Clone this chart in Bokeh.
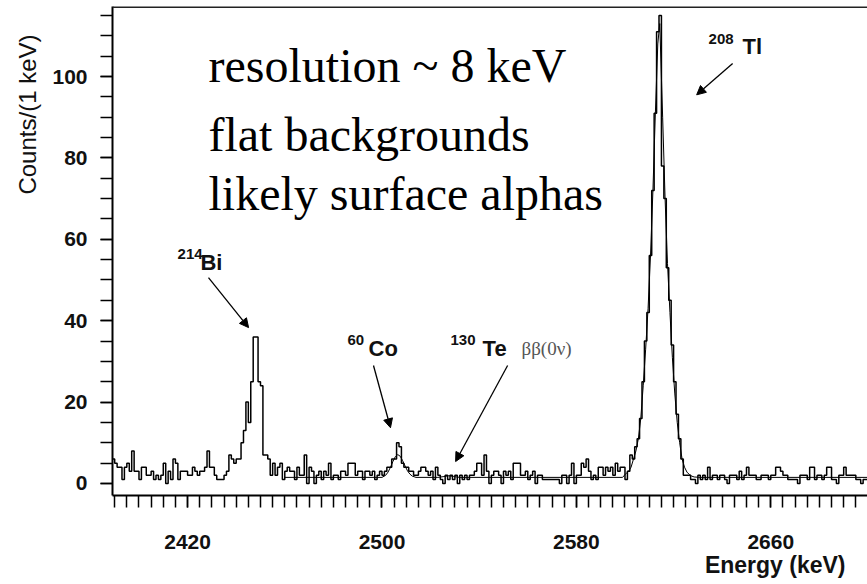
import math
from bokeh.plotting import figure
from bokeh.models import Range1d, FixedTicker, Label, Arrow, NormalHead, Span, Title
from bokeh.embed import file_html
from bokeh.resources import INLINE

# ---------------- data ----------------
bin_start = 2389  # first 1-keV bin (keV)

counts_bi = [  # 2389 .. 2453
    6, 5, 4, 4, 1, 4, 5, 3, 8, 3,
    3, 1, 4, 4, 2, 2, 3, 1, 2, 1,
    2, 5, 0, 3, 1, 6, 5, 1, 3, 3,
    3, 2, 2, 4, 3, 2, 3, 3, 4, 8,
    4, 4, 2, 1, 1, 1, 2, 3, 7, 6,
    5, 6, 6, 10, 13, 20, 15, 25, 36, 36,
    25, 24, 7, 7, 6,
]
counts_mid = [  # 2454 .. 2624
    2, 5, 2, 4, 5, 1, 3, 4, 3, 3,
    1, 4, 2, 2, 7, 0, 4, 3, 0, 2,
    3, 1, 3, 2, 5, 1, 2, 2, 1, 3,
    3, 2, 5, 5, 5, 2, 3, 3, 1, 3,
    3, 2, 3, 1, 2, 3, 2, 3, 4, 4,
    6, 6, 10, 9, 5, 4, 4, 3, 3, 2,
    2, 3, 4, 4, 3, 2, 3, 1, 4, 2,
    1, 0, 2, 1, 2, 1, 2, 0, 2, 1,
    2, 1, 2, 2, 3, 5, 5, 2, 7, 3,
    0, 2, 3, 3, 2, 0, 3, 2, 3, 1,
    5, 5, 5, 2, 2, 3, 1, 2, 3, 0,
    2, 2, 1, 1, 1, 1, 1, 1, 1, 0,
    2, 2, 0, 2, 5, 0, 2, 2, 5, 4,
    6, 3, 1, 2, 1, 4, 4, 2, 4, 3,
    4, 2, 5, 3, 4, 4, 1, 3, 7, 6,
    9, 11, 16, 25, 35, 42, 56, 72, 91, 111,
    115, 78, 70, 53, 45, 34, 25, 17, 11, 6, 2,
]
counts_tail = [  # 2625 .. 2699
    2, 2, 1, 1, 0, 2, 1, 2, 1, 4,
    1, 2, 2, 1, 2, 2, 1, 0, 2, 2,
    2, 1, 3, 1, 2, 4, 2, 2, 2, 1,
    1, 2, 2, 2, 1, 2, 2, 4, 4, 3,
    2, 2, 1, 1, 1, 1, 0, 2, 2, 2,
    1, 4, 4, 1, 2, 2, 1, 2, 4, 4,
    1, 1, 0, 2, 2, 4, 2, 2, 2, 2,
    1, 1, 0, 1, 1,
]

fit_energy = [2460, 2500, 2501.5, 2502.5, 2503.5, 2504.5, 2505.5, 2506.5, 2507.5,
              2508.5, 2509.5, 2510.5, 2511.5, 2512.5, 2514,
              2523, 2525.5, 2527.5, 2529.5, 2532,
              2599, 2600.5, 2601.5, 2602.5, 2603.5, 2604.5, 2605.5, 2606.5, 2607.5,
              2608.5, 2609.5, 2610.5, 2611.5, 2612.5, 2613.5, 2614.3,
              2615.5, 2616.5, 2617.5, 2618.5, 2619.5, 2620.5, 2621.5, 2622.5,
              2623.5, 2624.5, 2625.5, 2626.5, 2627.5, 2628.5, 2631, 2700]
fit_counts = [1.5, 1.5, 2.0, 2.8, 4.0, 5.4, 6.6, 7.1, 6.7,
              5.6, 4.3, 3.1, 2.3, 1.8, 1.5,
              1.5, 1.7, 1.9, 1.7, 1.5,
              1.5, 2.5, 3, 4, 6, 8, 11, 16, 24,
              33, 43, 56, 72, 91, 108, 113,
              90, 70, 54, 42, 31, 22, 15, 10,
              6, 4, 2.8, 2.2, 1.8, 1.6, 1.5, 1.5]

x_ticks = [2420, 2500, 2580, 2660]
y_ticks = [0, 20, 40, 60, 80, 100]

# ---------------- figure ----------------
counts = counts_bi + counts_mid + counts_tail
edges = [bin_start + i for i in range(len(counts) + 1)]
step_y = counts + [counts[-1]]

x_start, x_end = 2389.1, 2699.8
y_start, y_end = -2.95, 117.2

p = figure(width=867, height=584, output_backend="svg", toolbar_location=None,
           x_range=Range1d(x_start, x_end), y_range=Range1d(y_start, y_end),
           min_border_left=112, min_border_right=0, min_border_top=6,
           min_border_bottom=89)
p.outline_line_color = None
p.xgrid.visible = False
p.ygrid.visible = False
p.background_fill_color = "white"
p.border_fill_color = "white"

p.step(edges, step_y, mode="after", line_color="black", line_width=1.5)
p.line(fit_energy, fit_counts, line_color="black", line_width=1)

p.add_layout(Span(location=y_end, dimension="width", line_color="#222222", line_width=3))

p.xaxis.ticker = FixedTicker(ticks=x_ticks, minor_ticks=list(range(2390, 2701, 5)))
p.yaxis.ticker = FixedTicker(ticks=y_ticks, minor_ticks=list(range(0, 120, 5)))
for ax in (p.xaxis[0], p.yaxis[0]):
    ax.major_tick_in = 0
    ax.major_tick_out = 12
    ax.minor_tick_in = 0
    ax.minor_tick_out = 12
    ax.axis_line_width = 2
    ax.axis_line_color = "black"
    ax.major_tick_line_width = 1.5
    ax.minor_tick_line_width = 1.5
    ax.major_tick_line_color = "black"
    ax.minor_tick_line_color = "black"
    ax.major_label_text_font = "Liberation Sans"
    ax.major_label_text_font_style = "bold"
    ax.major_label_text_font_size = "21px"
    ax.major_label_text_color = "#111111"
p.xaxis[0].major_label_standoff = 27
p.yaxis[0].major_label_standoff = 13

sans = "Liberation Sans"
serif = "Liberation Serif"

# axis titles (as side titles, so that they are drawn outside the frame)
p.add_layout(Title(text="Energy (keV)", align="right", offset=22, standoff=0,
                   vertical_align="top", text_font=sans, text_font_style="bold",
                   text_font_size="23px", text_color="#111111"), "below")
p.add_layout(Title(text="Counts/(1 keV)", align="right", offset=28, standoff=18,
                   text_font=sans, text_font_style="normal",
                   text_font_size="24px", text_color="#111111"), "left")


def txt(x, y, s, size, font=sans, style="bold", color="#111111"):
    p.add_layout(Label(x=x, y=y, text=s, text_font=font, text_font_size=size,
                       text_font_style=style, text_color=color, text_align="left",
                       text_baseline="alphabetic"))


# big comments
txt(2428.6, 102.7, "resolution ~ 8 keV", "48px", font=serif, style="normal", color="black")
txt(2428.6, 85.7, "flat backgrounds", "48px", font=serif, style="normal", color="black")
txt(2428.6, 71.3, "likely surface alphas", "48px", font=serif, style="normal", color="black")

# peak labels
txt(2415.9, 56.4, "214", "15px")
txt(2425.3, 54.4, "Bi", "22px")
txt(2485.8, 35.3, "60", "15px")
txt(2494.5, 33.2, "Co", "22px")
txt(2528.2, 35.3, "130", "15px")
txt(2541.4, 33.2, "Te", "22px")
txt(2557.4, 33.2, "ββ(0ν)", "19px", font=serif, style="normal", color="#555555")
txt(2634.4, 109.1, "208", "15px")
txt(2648.4, 107.3, "Tl", "22px")


def arrow(x0, y0, x1, y1):
    p.add_layout(Arrow(end=NormalHead(size=9, fill_color="black", line_color="black",
                                      line_width=1),
                       x_start=x0, y_start=y0, x_end=x1, y_end=y1,
                       line_color="black", line_width=1.3))


arrow(2428.6, 50.6, 2445.1, 38.3)
arrow(2496.5, 29.0, 2503.5, 13.7)
arrow(2551.7, 29.0, 2530.3, 5.4)
arrow(2644.3, 103.2, 2629.5, 95.5)

open("out.html", "w").write(file_html(p, INLINE))
